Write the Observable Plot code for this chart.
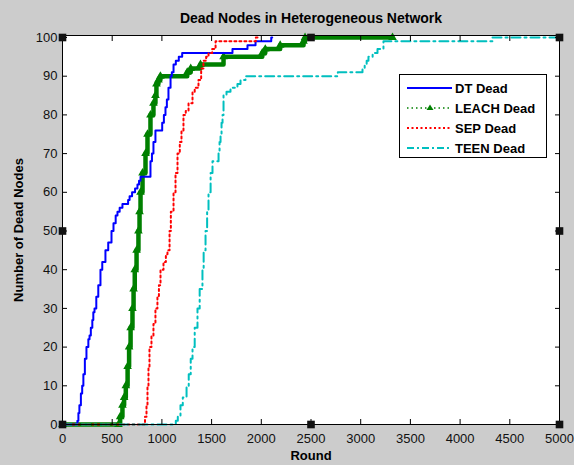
<!DOCTYPE html>
<html><head><meta charset="utf-8">
<script src="https://cdn.jsdelivr.net/npm/d3@7"></script>
<script src="https://cdn.jsdelivr.net/npm/@observablehq/plot@0.6"></script>
<style>
html,body{margin:0;padding:0;background:#cccccc;}
#wrap{position:relative;width:574px;height:465px;background:#cccccc;overflow:hidden;}
#wrap svg{display:block;}
#legend{position:absolute;left:399px;top:74px;width:148px;height:84px;background:#fff;border:1px solid #000;box-sizing:border-box;font:bold 13px "Liberation Sans",Arial,sans-serif;color:#000;}
#legend .row{position:absolute;left:0;height:16px;display:flex;align-items:center;}
#legend svg{margin-left:7px;margin-right:3px;}
</style></head><body><div id="wrap"></div>
<script>
// ---- data ----
const xTicks = [0,500,1000,1500,2000,2500,3000,3500,4000,4500,5000];
const yTicks = [0,10,20,30,40,50,60,70,80,90,100];
const titleText = "Dead Nodes in Heterogeneous Network";
const xLabelText = "Round";
const yLabelText = "Number of Dead Nodes";
const seriesNames = ["DT Dead","LEACH Dead","SEP Dead","TEEN Dead"];
const seriesColors = ["#0000ff","#008000","#ff0000","#00bfbf"];

// [round, dead nodes]
const dtDead = [[0,0],[140,0],[150,1],[160,3],[170,5],[185,8],[198,10],[210,13],[225,17],[241,20],[260,22],[272,23],[285,25],[300,27],[310,29],[322,30],[340,33],[360,36],[382,40],[400,42],[432,45],[460,47],[493,50],[513,52],[535,54],[553,55],[575,56],[603,57],[660,58],[675,59],[700,60],[730,61],[754,62],[770,63],[785,64],[885,68],[900,70],[915,73],[935,76],[1003,78],[1020,80],[1036,82],[1050,84],[1066,87],[1087,90],[1100,91],[1117,93],[1140,94],[1170,95],[1204,96],[1710,97],[1861,98],[1942,99],[2100,100],[2110,100]];
const leachDead = [[0,0],[563,0],[580,2],[603,5],[620,7],[637,10],[655,15],[670,20],[685,25],[704,30],[715,35],[727,40],[745,45],[764,50],[775,55],[785,60],[805,65],[835,70],[855,75],[885,80],[915,83],[935,85],[945,88],[965,89],[985,90],[1255,91],[1290,92],[1388,93],[1620,95],[2010,96],[2040,97],[2190,98],[2425,99],[2440,100],[3320,100]];
const sepDead = [[0,0],[815,0],[830,2],[845,5],[855,10],[865,15],[875,20],[895,23],[915,26],[935,30],[955,33],[970,36],[986,40],[1016,42],[1040,44],[1056,45],[1077,50],[1090,55],[1117,60],[1137,65],[1157,70],[1180,73],[1197,76],[1217,80],[1240,81],[1268,83],[1308,86],[1330,87],[1368,89],[1395,92],[1418,94],[1445,95],[1469,96],[1506,97],[1540,99],[1945,100],[1990,100]];
const teenDead = [[0,0],[1120,0],[1140,1],[1160,2],[1187,5],[1210,7],[1248,10],[1270,13],[1290,17],[1308,20],[1330,25],[1358,30],[1380,35],[1408,40],[1420,45],[1439,50],[1455,55],[1469,60],[1490,65],[1509,68],[1570,70],[1580,73],[1590,75],[1600,78],[1610,80],[1620,85],[1650,86],[1690,87],[1760,88],[1791,89],[1841,90],[2770,91],[3018,92],[3040,93],[3060,94],[3078,95],[3120,96],[3169,97],[3229,99],[4326,100],[5000,100]];

// ---- build ----
const rows = (pairs) => pairs.map(([r, v]) => ({round: r, dead: v}));
const xDom = [xTicks[0], xTicks[xTicks.length - 1]];
const yDom = [yTicks[0], yTicks[yTicks.length - 1]];
const xMid = (xDom[0] + xDom[1]) / 2, yMid = (yDom[0] + yDom[1]) / 2;
const handles = [[xDom[0],yDom[0]],[xMid,yDom[0]],[xDom[1],yDom[0]],[xDom[0],yMid],[xDom[1],yMid],[xDom[0],yDom[1]],[xMid,yDom[1]],[xDom[1],yDom[1]]].map(([x,y]) => ({x, y}));

const lineOpts = {x: "round", y: "dead", curve: "step-after"};
const font = "Liberation Sans, Arial, sans-serif";
const plain = (d) => String(d);

const chart = Plot.plot({
  width: 574, height: 465,
  marginLeft: 62, marginRight: 15, marginTop: 35, marginBottom: 41,
  style: {background: "transparent", fontFamily: font, fontSize: "13px", color: "#111"},
  x: {domain: xDom},
  y: {domain: yDom, insetTop: 2},
  marks: [
    Plot.frame({fill: "white", stroke: "none"}),
    Plot.line(rows(leachDead), {...lineOpts, stroke: seriesColors[1], strokeWidth: 4.5}),
    Plot.dot(rows(leachDead), {x: "round", y: "dead", symbol: "triangle", r: 3.2, fill: seriesColors[1], stroke: "none"}),
    Plot.line(rows(dtDead), {...lineOpts, stroke: seriesColors[0], strokeWidth: 2}),
    Plot.line(rows(sepDead), {...lineOpts, stroke: seriesColors[2], strokeWidth: 2, strokeDasharray: "2,3"}),
    Plot.line(rows(teenDead), {...lineOpts, stroke: seriesColors[3], strokeWidth: 2, strokeDasharray: "9,4,2,4"}),
    Plot.frame({stroke: "#000"}),
    Plot.axisX(xTicks, {anchor: "bottom", tickSize: 0, tickPadding: 9, label: null, fontSize: 13, tickFormat: plain}),
    Plot.axisX(xTicks, {anchor: "bottom", tickSize: 5, dy: -5, tickFormat: () => "", label: null, stroke: "#000"}),
    Plot.axisX(xTicks, {anchor: "top", tickSize: 5, dy: 5, tickFormat: () => "", label: null, stroke: "#000"}),
    Plot.axisY(yTicks, {anchor: "left", tickSize: 0, tickPadding: 5, label: null, fontSize: 13, tickFormat: plain}),
    Plot.axisY(yTicks, {anchor: "left", tickSize: 5, dx: 5, tickFormat: () => "", label: null, stroke: "#000"}),
    Plot.axisY(yTicks, {anchor: "right", tickSize: 5, dx: -5, tickFormat: () => "", label: null, stroke: "#000"}),
    Plot.dot(handles, {x: "x", y: "y", symbol: "square", r: 4.3, fill: "#111", stroke: "none"}),
    Plot.text([titleText], {frameAnchor: "top", lineAnchor: "middle", dy: -17, fontWeight: "bold", fontSize: 14, fill: "#000"}),
    Plot.text([xLabelText], {frameAnchor: "bottom", lineAnchor: "middle", dy: 31, fontWeight: "bold", fontSize: 13, fill: "#000"}),
    Plot.text([yLabelText], {frameAnchor: "left", textAnchor: "middle", lineAnchor: "middle", dx: -44, rotate: -90, fontWeight: "bold", fontSize: 13, fill: "#000"})
  ]
});
const wrap = document.getElementById("wrap");
wrap.appendChild(chart);

// legend
const legend = document.createElement("div");
legend.id = "legend";
const dashes = [null, "1.5,3", "2,2.5", "7,3,2,3"];
seriesNames.forEach((name, i) => {
  const row = document.createElement("div");
  row.className = "row";
  row.style.top = (5 + i * 20) + "px";
  const sw = i === 1 ? 1.5 : 2;
  const marker = i === 1 ? `<path d="M23,4.5 L26.5,10 L19.5,10 Z" fill="${seriesColors[1]}"/>` : "";
  row.innerHTML = `<svg width="45" height="16"><line x1="0" x2="45" y1="8" y2="8" stroke="${seriesColors[i]}" stroke-width="${sw}" ${dashes[i] ? `stroke-dasharray="${dashes[i]}"` : ""}/>${marker}</svg><span>${name}</span>`;
  legend.appendChild(row);
});
wrap.appendChild(legend);
</script></body></html>
